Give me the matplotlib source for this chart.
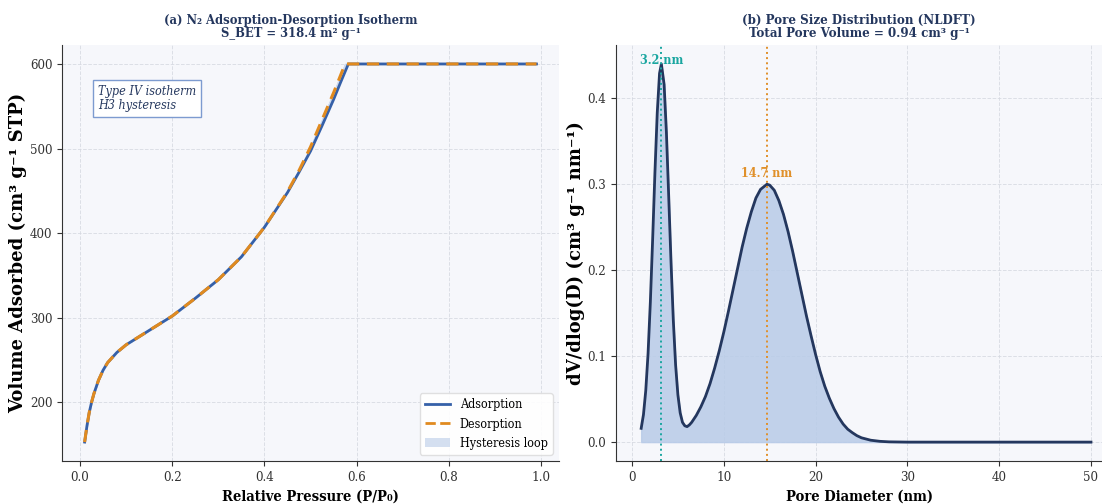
import matplotlib
matplotlib.use("Agg")
import matplotlib.pyplot as plt
from matplotlib.patches import Patch
from matplotlib.lines import Line2D

plt.rcParams['font.family'] = ['DejaVu Serif']
plt.rcParams['font.stretch'] = 'condensed'

# Isotherm data
p_ads = [0.010, 0.015, 0.020, 0.025, 0.030, 0.040, 0.050, 0.060, 0.080, 0.100,
         0.150, 0.200, 0.250, 0.300, 0.350, 0.400, 0.450, 0.475, 0.500, 0.525,
         0.550, 0.565, 0.582, 0.700, 0.850, 0.990]
v_ads = [153, 172, 188, 200, 210, 226, 238, 247, 259, 268,
         285, 302, 323, 345, 372, 407, 448, 472, 497, 527,
         558, 578, 600, 600, 600, 600]
p_des = [0.010, 0.015, 0.020, 0.025, 0.030, 0.040, 0.050, 0.060, 0.080, 0.100,
         0.150, 0.200, 0.250, 0.300, 0.350, 0.400, 0.450, 0.475, 0.500, 0.525,
         0.550, 0.575, 0.700, 0.850, 0.990]
v_des = [153, 172, 188, 200, 210, 226, 238, 247, 259, 268,
         285, 302, 323, 345, 372, 407, 449, 474, 502, 534,
         566, 600, 600, 600, 600]

# Pore size distribution
diam = [1.0, 1.25, 1.5, 1.75, 2.0, 2.25, 2.5, 2.75, 3.0, 3.2, 3.5, 3.75, 4.0,
        4.25, 4.5, 4.75, 5.0, 5.25, 5.5, 5.75, 6.0, 6.25, 6.5, 7.0, 7.5, 8.0,
        8.5, 9.0, 9.5, 10.0, 10.5, 11.0, 11.5, 12.0, 12.5, 13.0, 13.5, 14.0,
        14.7, 15.0, 15.5, 16.0, 16.5, 17.0, 17.5, 18.0, 18.5, 19.0, 19.5, 20.0,
        20.5, 21.0, 21.5, 22.0, 22.5, 23.0, 23.5, 24.0, 24.5, 25.0, 26.0, 27.0,
        28.0, 30.0, 35.0, 40.0, 45.0, 50.0]
dvdlogd = [0.016, 0.032, 0.060, 0.103, 0.163, 0.236, 0.314, 0.383, 0.429, 0.440,
           0.416, 0.360, 0.286, 0.210, 0.142, 0.090, 0.055, 0.034, 0.023, 0.019,
           0.018, 0.020, 0.023, 0.031, 0.041, 0.053, 0.068, 0.086, 0.106, 0.128,
           0.152, 0.177, 0.202, 0.227, 0.249, 0.268, 0.284, 0.294, 0.300, 0.299,
           0.293, 0.281, 0.265, 0.245, 0.222, 0.197, 0.172, 0.147, 0.124, 0.102,
           0.082, 0.065, 0.051, 0.039, 0.029, 0.021, 0.015, 0.011, 0.0075, 0.005,
           0.0022, 0.0009, 0.0003, 0.0, 0.0, 0.0, 0.0, 0.0]
peak1, peak2 = 3.2, 14.7

navy = '#24375e'
c_ads = '#3560a8'
c_des = '#e08a1f'
c_fill = '#b8cbe8'
bg = '#f6f7fb'

fig = plt.figure(figsize=(11.02, 5.04), dpi=100)
ax1 = fig.add_axes([0.0563, 0.0853, 0.451, 0.8254])
ax2 = fig.add_axes([0.559, 0.0853, 0.441, 0.8254])

for ax in (ax1, ax2):
    ax.set_facecolor(bg)
    ax.grid(True, linestyle='--', color='#d5d8e0', linewidth=0.7, alpha=0.8)
    ax.set_axisbelow(True)
    ax.spines['top'].set_visible(False)
    ax.spines['right'].set_visible(False)
    ax.spines['left'].set_color('#333333')
    ax.spines['bottom'].set_color('#333333')
    ax.tick_params(labelsize=9.5, colors='#333333')

# (a) isotherm
ax1.fill_between(p_des, v_des, [min(v, 600) for v in v_des], color=c_fill, alpha=0.6)
ax1.plot(p_ads, v_ads, color=c_ads, linewidth=2.0)
ax1.plot(p_des, v_des, color=c_des, linewidth=2.2, linestyle='--', dashes=(4, 2.5))
ax1.set_xlim(-0.039, 1.039)
ax1.set_ylim(130.6, 622.4)
ax1.set_xticks([0.0, 0.2, 0.4, 0.6, 0.8, 1.0])
ax1.set_xlabel('Relative Pressure (P/P₀)', fontsize=10.5, fontweight='bold')
ax1.set_ylabel('Volume Adsorbed (cm³ g⁻¹ STP)', fontsize=13, fontweight='bold',
               fontstretch='normal', labelpad=2)
ax1.set_title('(a) N₂ Adsorption-Desorption Isotherm\nS_BET = 318.4 m² g⁻¹', x=0.46,
              fontsize=9.3, fontweight='bold', color=navy, pad=6, linespacing=1.0)
ax1.text(0.072, 0.905, 'Type IV isotherm\nH3 hysteresis', transform=ax1.transAxes,
         fontsize=9, style='italic', color=navy, va='top', ha='left', linespacing=1.15,
         bbox=dict(boxstyle='square,pad=0.4', facecolor='white', edgecolor='#7d9bd0', linewidth=1.0))
handles = [Line2D([], [], color=c_ads, linewidth=2.0),
           Line2D([], [], color=c_des, linewidth=2.0, linestyle='--'),
           Patch(facecolor=c_fill, alpha=0.6)]
ax1.legend(handles, ['Adsorption', 'Desorption', 'Hysteresis loop'], loc='lower right',
           fontsize=9, frameon=True, facecolor='white', edgecolor='#dddddd', framealpha=0.9)

# (b) pore size distribution
ax2.fill_between(diam, 0, dvdlogd, color=c_fill, alpha=0.85)
ax2.plot(diam, dvdlogd, color=navy, linewidth=2.0)
ax2.axvline(peak1, color='#1aa6a0', linestyle=':', linewidth=1.4)
ax2.axvline(peak2, color='#e0902a', linestyle=':', linewidth=1.4)
ax2.text(peak1, 0.436, f'{peak1} nm', color='#1aa6a0', fontsize=9,
         fontweight='bold', ha='center', va='bottom')
ax2.text(peak2, 0.305, f'{peak2} nm', color='#e0902a', fontsize=9,
         fontweight='bold', ha='center', va='bottom')
ax2.set_xlim(-1.74, 51.2)
ax2.set_ylim(-0.022, 0.462)
ax2.set_xticks([0, 10, 20, 30, 40, 50])
ax2.set_xlabel('Pore Diameter (nm)', fontsize=10.5, fontweight='bold')
ax2.set_ylabel('dV/dlog(D) (cm³ g⁻¹ nm⁻¹)', fontsize=13, fontweight='bold',
               fontstretch='normal', labelpad=2)
ax2.set_title('(b) Pore Size Distribution (NLDFT)\nTotal Pore Volume = 0.94 cm³ g⁻¹',
              fontsize=9.5, fontweight='bold', color=navy, pad=6, linespacing=1.0)

fig.savefig('out.png', dpi=100)
